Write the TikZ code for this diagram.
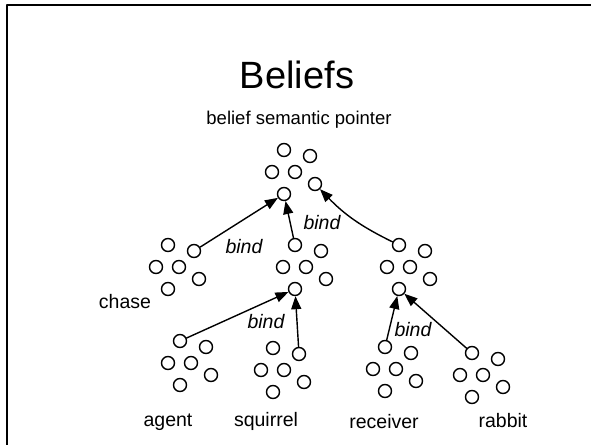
\documentclass[tikz,border=0pt]{standalone}
\usepackage{fontspec}
\setmainfont{Liberation Sans}
\usetikzlibrary{arrows.meta}
\tikzstyle{every node}=[font=\fontsize{19.5}{22}\selectfont]
\tikzstyle{every path}=[line width=1.4pt,line cap=round,line join=round]
\tikzstyle{unit}=[circle,draw,minimum size=13pt,inner sep=0pt]
\tikzstyle{bindarrow}=[-{Triangle[length=13pt,width=10pt]}]
\tikzstyle{bindlabel}=[anchor=base,font=\fontsize{19.5}{22}\selectfont\itshape]
\begin{document}
\begin{tikzpicture}[x=1pt,y=-1pt]
  \useasboundingbox (0,0) rectangle (591,444);
  \draw[line width=2pt] (6.5,460)--(6.5,5.5)--(600,5.5);
  % title
  \node[anchor=base,font=\fontsize{38}{40}\selectfont] (title) at (297,88) {Beliefs};
  \node[anchor=base,font=\fontsize{18.5}{21}\selectfont] (sp) at (299,124) {belief semantic pointer};
  % neural populations
  \foreach \n/\x/\y in {top/284/150,chase/168/245,mid/295/245,rgt/399/245,
      agent/180/341,squirrel/273/348,receiver/385/347,rabbit/472/353}
    \foreach \u/\dx/\dy in {a/0/0,b/26/6,c/-12/22,d/11/22,e/31/34,f/0/44}
      \node[unit] (\n-\u) at (\x+\dx,\y+\dy) {};
  % bindings
  \draw[bindarrow] (chase-b)--(top-f);
  \draw[bindarrow] (mid-a)--(top-f);
  \draw[bindarrow] (rgt-a) to[bend left=10] (top-e);
  \draw[bindarrow] (agent-a)--(mid-f);
  \draw[bindarrow] (squirrel-b)--(mid-f);
  \draw[bindarrow] (receiver-a)--(rgt-f);
  \draw[bindarrow] (rabbit-a)--(rgt-f);
  \node[bindlabel] (b1) at (244,253) {bind};
  \node[bindlabel] (b2) at (322,229) {bind};
  \node[bindlabel] (b3) at (266,328) {bind};
  \node[bindlabel] (b4) at (413,336) {bind};
  % labels
  \node[anchor=base] (chase) at (125,308) {chase};
  \node[anchor=base] (agent) at (168,426) {agent};
  \node[anchor=base] (squirrel) at (266,426) {squirrel};
  \node[anchor=base] (receiver) at (384,428) {receiver};
  \node[anchor=base] (rabbit) at (503,427) {rabbit};
\end{tikzpicture}
\end{document}
